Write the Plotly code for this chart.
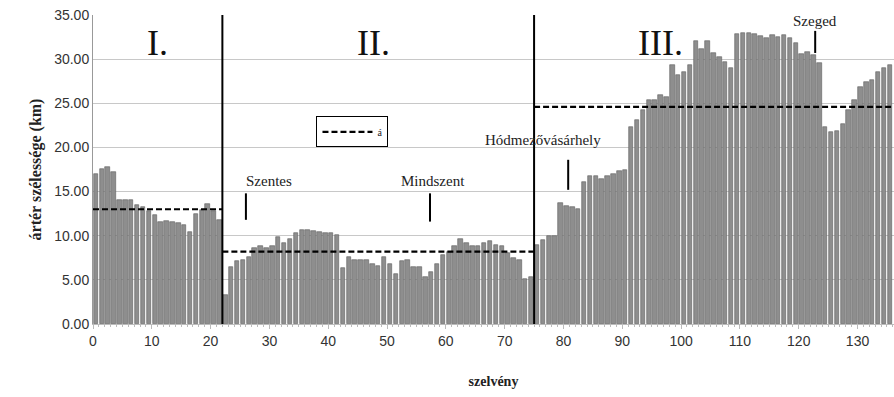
import plotly.graph_objects as go

# szelvény index (0..135) and ártér width (km)
szelveny = list(range(136))
sec1 = [17.0, 17.6, 17.8, 17.2, 14.0, 14.0, 14.1, 13.5, 13.2, 12.8, 12.3,
        11.6, 11.7, 11.6, 11.4, 11.2, 10.4, 12.5, 12.9, 13.6, 12.8, 11.8]
sec2 = [3.3, 6.5, 7.1, 7.3, 7.6, 8.6, 8.8, 8.6, 8.8, 9.9, 9.2, 9.6, 10.3,
        10.6, 10.7, 10.5, 10.4, 10.3, 10.3, 10.1, 6.3, 7.6, 7.3, 7.3, 7.2,
        6.8, 6.6, 7.6, 6.8, 5.7, 7.1, 7.3, 6.5, 6.5, 5.3, 5.9, 6.8, 7.8,
        8.2, 8.8, 9.6, 9.2, 8.8, 8.8, 9.2, 9.4, 9.0, 8.8, 8.0, 7.5, 7.3,
        5.1, 5.3]
sec3 = [8.9, 9.5, 10.0, 10.0, 13.7, 13.4, 13.2, 13.0,
        16.1, 16.8, 16.8, 16.4, 16.8, 17.0, 17.3, 17.5,
        22.3, 23.1, 24.2, 25.4, 25.4, 25.9, 25.7,
        29.3, 28.2, 28.6, 29.3,
        32.0, 31.2, 32.0, 30.7, 30.2, 29.7, 29.0,
        32.9, 33.0, 33.0, 32.8, 32.6, 32.4, 32.7, 32.5, 32.7, 32.4, 31.8,
        30.6, 30.8, 30.5, 29.6,
        22.3, 21.8, 21.9, 22.7, 24.2, 25.4, 26.8, 27.4, 27.6, 28.6, 29.0, 29.3]
arter = sec1 + sec2 + sec3

section_bounds = [0, 22, 75, 136]
section_means = [13.0, 8.2, 24.6]
section_names = ["I.", "II.", "III."]

towns = ["Szentes", "Mindszent", "Hódmezővásárhely", "Szeged"]
town_szelveny = [26.0, 57.3, 80.8, 122.8]

y_ticks = [0, 5, 10, 15, 20, 25, 30, 35]
x_ticks = list(range(0, 131, 10))

SERIF = "Times New Roman, Liberation Serif, serif"
SANS = "Arial, Liberation Sans, sans-serif"

fig = go.Figure()
fig.add_trace(go.Bar(
    x=szelveny, y=arter, offset=0.12, width=0.76,
    marker=dict(color="#8e8e8e", line=dict(color="#5e5e5e", width=0.6)),
    showlegend=False, hoverinfo="x+y"))

for i, m in enumerate(section_means):
    fig.add_trace(go.Scatter(
        x=[section_bounds[i], section_bounds[i + 1]], y=[m, m], mode="lines",
        line=dict(color="black", width=2.2, dash="6px,3px"),
        name="á", showlegend=(i == 0)))

shapes = []
for b in section_bounds[1:-1]:
    shapes.append(dict(type="line", xref="x", yref="y", x0=b, x1=b, y0=0, y1=35,
                       line=dict(color="black", width=2)))

marker_y = [(11.8, 14.8), (11.6, 14.8), (15.2, 18.6), (30.7, 33.2)]
label_pos = [(30.0, 16.2), (57.8, 16.2), (76.5, 20.8), (122.8, 34.3)]
annotations = []
for t, sx, (ya, yb), (lx, ly) in zip(towns, town_szelveny, marker_y, label_pos):
    shapes.append(dict(type="line", xref="x", yref="y", x0=sx, x1=sx, y0=ya, y1=yb,
                       line=dict(color="black", width=2)))
    annotations.append(dict(x=lx, y=ly, xref="x", yref="y", text=t, showarrow=False,
                            font=dict(family=SERIF, size=15, color="#222")))

for i, nm in enumerate(section_names):
    cx = (section_bounds[i] + section_bounds[i + 1]) / 2
    if i == 1:
        cx = 47.7
    if i == 2:
        cx = 96.5
    annotations.append(dict(x=cx, y=31.8, xref="x", yref="y", text=nm, showarrow=False,
                            font=dict(family=SERIF, size=36, color="#111")))

fig.update_layout(
    width=894, height=397,
    margin=dict(l=93, r=0, t=15, b=73),
    paper_bgcolor="white", plot_bgcolor="white",
    bargap=0,
    shapes=shapes, annotations=annotations,
    legend=dict(x=0.279, y=0.672, xanchor="left", yanchor="top",
                bgcolor="white", bordercolor="black", borderwidth=1,
                font=dict(family=SERIF, size=10, color="#222"),
                itemwidth=50, tracegroupgap=0),
    xaxis=dict(range=[0, 136.2], tickvals=x_ticks, ticktext=[str(v) for v in x_ticks],
               showgrid=False, zeroline=False, showline=True, linecolor="#bbbbbb",
               ticks="outside", ticklen=4, tickcolor="#bbbbbb",
               minor=dict(dtick=1, ticks="outside", ticklen=2, tickcolor="#bbbbbb"),
               tickfont=dict(family=SANS, size=14, color="#333"),
               title=dict(text="<b>szelvény</b>", standoff=28,
                          font=dict(family=SERIF, size=14, color="#222"))),
    yaxis=dict(range=[0, 35], tickvals=y_ticks, ticktext=[f"{v:.2f}" for v in y_ticks],
               showgrid=True, gridcolor="#c8c8c8", gridwidth=1, zeroline=False,
               showline=True, linecolor="#999999", mirror=True,
               ticks="", tickfont=dict(family=SANS, size=14, color="#333"),
               title=dict(text="<b>ártér szélessége (km)</b>", standoff=8,
                          font=dict(family=SERIF, size=16, color="#222"))),
)

fig.write_html("out.html")
